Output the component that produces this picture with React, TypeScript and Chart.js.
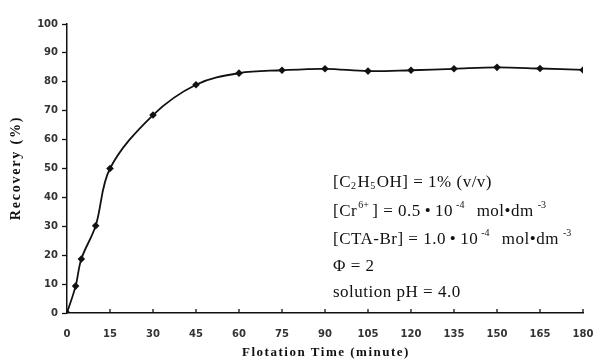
import React, { useEffect, useRef } from "react";
import { Chart, registerables } from "chart.js";

Chart.register(...registerables);

const times = [0, 3, 5, 10, 15, 30, 45, 60, 75, 90, 105, 120, 135, 150, 165, 180];
const recovery = [0, 9.3, 18.7, 30.2, 50, 68.5, 79, 83, 84, 84.5, 83.7, 84, 84.5, 85, 84.6, 84.1];
const xTicks = [0, 15, 30, 45, 60, 75, 90, 105, 120, 135, 150, 165, 180];
const xTitle = "Flotation Time (minute)";
const yTitle = "Recovery (%)";

type Seg = { t: string; m?: "sub" | "sup"; pre?: number; post?: number };
const annotationLines: Seg[][] = [
  [{ t: "[C" }, { t: "2", m: "sub" }, { t: "H" }, { t: "5", m: "sub" }, { t: "OH] = 1% (v/v)" }],
  [
    { t: "[Cr" },
    { t: "6+", m: "sup", pre: 1, post: 2 },
    { t: "] = 0.5\u2009•\u200910" },
    { t: "-4", m: "sup", pre: 3, post: 6 },
    { t: " mol•dm" },
    { t: "-3", m: "sup", pre: 4 },
  ],
  [
    { t: "[CTA-Br] = 1.0\u2009•\u200910" },
    { t: "-4", m: "sup", pre: 3, post: 6 },
    { t: " mol•dm" },
    { t: "-3", m: "sup", pre: 4 },
  ],
  [{ t: "Φ = 2" }],
  [{ t: "solution pH = 4.0" }],
];

const SERIF = '"Liberation Serif", "Times New Roman", serif';

function drawRich(ctx: CanvasRenderingContext2D, x: number, y: number, segs: Seg[], size: number) {
  let cx = x;
  for (const s of segs) {
    const small = !!s.m;
    const fs = small ? Math.round(size * 0.6) : size;
    ctx.font = `${fs}px ${SERIF}`;
    (ctx as any).letterSpacing = small ? "0px" : "0.5px";
    cx += s.pre || 0;
    const dy = s.m === "sub" ? size * 0.22 : s.m === "sup" ? -size * 0.38 : 0;
    ctx.fillText(s.t, cx, y + dy);
    cx += ctx.measureText(s.t).width + (small ? 1.5 : 0) + (s.post || 0);
  }
  (ctx as any).letterSpacing = "0px";
}

const overlay = {
  id: "overlay",
  afterDraw(chart: any) {
    const ctx: CanvasRenderingContext2D = chart.ctx;
    const xs = chart.scales.x;
    const area = chart.chartArea;
    ctx.save();
    ctx.strokeStyle = "#111";
    ctx.lineWidth = 1.3;
    for (const v of xTicks) {
      if (v === 0) continue;
      const px = xs.getPixelForValue(v);
      ctx.beginPath();
      ctx.moveTo(px, area.bottom);
      ctx.lineTo(px, area.bottom - 4);
      ctx.stroke();
    }
    ctx.fillStyle = "#111";
    ctx.font = `bold 13px ${SERIF}`;
    (ctx as any).letterSpacing = "1.5px";
    ctx.textAlign = "center";
    ctx.textBaseline = "middle";
    ctx.fillText(xTitle, 326, 353);
    ctx.save();
    ctx.translate(16, 168);
    ctx.rotate(-Math.PI / 2);
    ctx.font = `bold 14px ${SERIF}`;
    (ctx as any).letterSpacing = "1.8px";
    ctx.fillText(yTitle, 0, 0);
    ctx.restore();
    (ctx as any).letterSpacing = "0px";
    ctx.textAlign = "left";
    ctx.textBaseline = "middle";
    const ys = [183, 212, 240, 267, 293];
    annotationLines.forEach((segs, i) => drawRich(ctx, 333, ys[i], segs, 17));
    ctx.restore();
  },
};

export default function App() {
  const ref = useRef<HTMLCanvasElement>(null);
  useEffect(() => {
    if (!ref.current) return;
    const chart = new Chart(ref.current, {
      type: "line",
      data: {
        datasets: [
          {
            data: times.map((t, i) => ({ x: t, y: recovery[i] })),
            borderColor: "#111",
            backgroundColor: "#111",
            borderWidth: 1.8,
            tension: 0.35,
            pointStyle: "rectRot",
            pointRadius: 3.8,
            pointBorderWidth: 0,
            fill: false,
          },
        ],
      },
      options: {
        responsive: false,
        animation: false,
        layout: { padding: { top: 24, right: 13, left: 0, bottom: 0 } },
        plugins: { legend: { display: false }, tooltip: { enabled: false } },
        scales: {
          x: {
            type: "linear",
            min: 0,
            max: 180,
            afterBuildTicks: (s: any) => {
              s.ticks = xTicks.map((v) => ({ value: v }));
            },
            afterFit: (s: any) => {
              s.height = 50;
              s.paddingRight = 0;
              s.paddingLeft = 0;
            },
            grid: { display: true, drawOnChartArea: false, drawTicks: false },
            border: { display: true, color: "#111", width: 1.5 },
            ticks: {
              padding: 15,
              maxRotation: 0,
              autoSkip: false,
              color: "#333",
              font: { family: '"DejaVu Sans", sans-serif', size: 10, weight: "bold" },
            },
          },
          y: {
            type: "linear",
            min: 0,
            max: 100,
            afterFit: (s: any) => {
              s.width = 67;
              s.paddingTop = 0;
              s.paddingBottom = 0;
            },
            grid: { display: true, drawOnChartArea: false, drawTicks: true, tickLength: 5, color: "#111", tickWidth: 1.3 },
            border: { display: true, color: "#111", width: 1.5 },
            ticks: {
              stepSize: 10,
              padding: 4,
              color: "#333",
              font: { family: '"DejaVu Sans", sans-serif', size: 10, weight: "bold" },
            },
          },
        },
      },
      plugins: [overlay],
    } as any);
    return () => chart.destroy();
  }, []);
  return (
    <div style={{ position: "absolute", left: 0, top: 0, width: 596, height: 363, background: "#fff" }}>
      <canvas ref={ref} width={596} height={363} />
    </div>
  );
}
